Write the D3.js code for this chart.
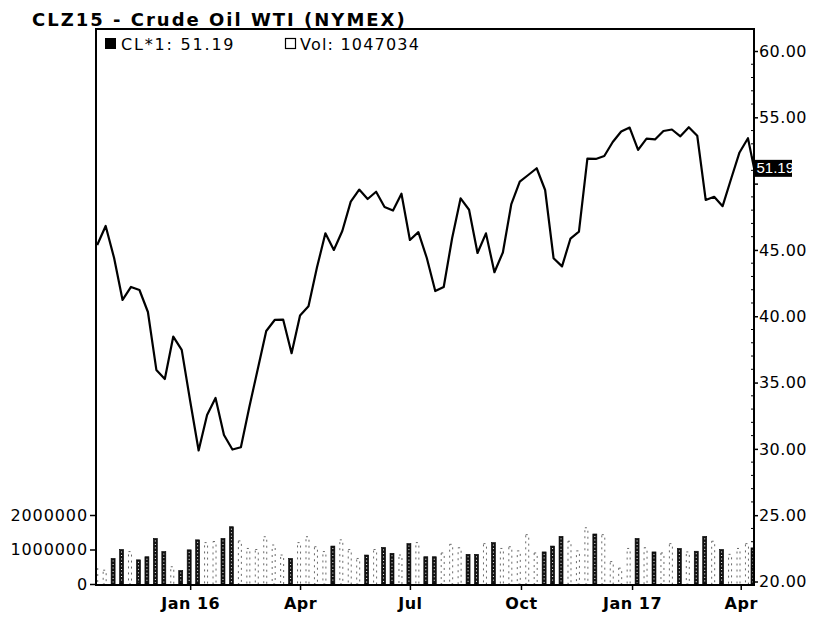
<!DOCTYPE html>
<html><head><meta charset="utf-8">
<script src="https://cdn.jsdelivr.net/npm/d3@7"></script>
<style>
body{margin:0;background:#fff}
svg{display:block}
text{font-family:"DejaVu Sans","Liberation Sans",Arial,sans-serif;fill:#000}
</style>
</head><body>
<svg id="chart" width="822" height="617"></svg>
<script>
// ---------------- DATA ----------------
const title = "CLZ15 - Crude Oil WTI (NYMEX)";
const priceLabel = "CL*1";
const volLabel = "Vol";
const lastClose = 51.19;
const lastVolume = 1047034;

const dates = [
 "2015-10-16","2015-10-23","2015-10-30","2015-11-06","2015-11-13","2015-11-20","2015-11-27",
 "2015-12-04","2015-12-11","2015-12-18","2015-12-25",
 "2016-01-01","2016-01-08","2016-01-15","2016-01-22","2016-01-29",
 "2016-02-05","2016-02-12","2016-02-19","2016-02-26",
 "2016-03-04","2016-03-11","2016-03-18","2016-03-25",
 "2016-04-01","2016-04-08","2016-04-15","2016-04-22","2016-04-29",
 "2016-05-06","2016-05-13","2016-05-20","2016-05-27",
 "2016-06-03","2016-06-10","2016-06-17","2016-06-24",
 "2016-07-01","2016-07-08","2016-07-15","2016-07-22","2016-07-29",
 "2016-08-05","2016-08-12","2016-08-19","2016-08-26",
 "2016-09-02","2016-09-09","2016-09-16","2016-09-23","2016-09-30",
 "2016-10-07","2016-10-14","2016-10-21","2016-10-28",
 "2016-11-04","2016-11-11","2016-11-18","2016-11-25",
 "2016-12-02","2016-12-09","2016-12-16","2016-12-23","2016-12-30",
 "2017-01-06","2017-01-13","2017-01-20","2017-01-27",
 "2017-02-03","2017-02-10","2017-02-17","2017-02-24",
 "2017-03-03","2017-03-10","2017-03-17","2017-03-24","2017-03-31",
 "2017-04-07","2017-04-12"
];

const closes = [
 45.37,46.81,44.39,41.23,42.21,41.98,40.32,35.95,35.27,38.47,37.46,
 33.61,29.88,32.55,33.84,31.05,
 29.95,30.12,33.16,36.02,
 38.89,39.72,39.75,37.21,
 40.06,40.75,43.67,46.25,45.00,
 46.43,48.64,49.55,48.84,
 49.39,48.24,47.97,49.24,
 45.75,46.34,44.39,41.90,42.21,
 45.90,48.89,48.03,44.77,
 46.25,43.32,44.81,48.46,50.15,
 50.65,51.16,49.52,44.37,
 43.76,45.86,46.38,51.89,
 51.86,52.08,53.14,53.93,54.23,
 52.54,53.39,53.33,53.97,
 54.08,53.57,54.25,53.61,
 48.77,49.01,48.30,50.35,52.35,
 53.42,51.19
];

const volumes = [
 550000,400000,740000,1000000,940000,700000,790000,1320000,940000,500000,390000,
 990000,1280000,1200000,1230000,1320000,
 1660000,1250000,1030000,1000000,
 1370000,1130000,840000,740000,
 1200000,1370000,1080000,940000,1100000,
 1280000,1000000,740000,840000,
 1000000,1060000,890000,840000,
 1170000,1200000,790000,790000,900000,
 1150000,1050000,860000,860000,
 1170000,1200000,1030000,1080000,960000,
 1430000,900000,930000,1100000,
 1380000,1240000,960000,1630000,
 1450000,1430000,650000,460000,1030000,
 1320000,1050000,930000,900000,
 1170000,1030000,930000,950000,
 1380000,1240000,1000000,860000,1030000,
 1170000,1047034
];

const priceTicks = [20,25,30,35,40,45,50,55,60];
const volumeTicks = [0,1000000,2000000];
const timeTicks = ["2016-01-01","2016-04-01","2016-07-01","2016-10-01","2017-01-01","2017-04-01"];
const timeTickLabels = ["Jan 16","Apr","Jul","Oct","Jan 17","Apr"];
const timeDomain = ["2015-10-15","2017-04-12"];

// ---------------- CHART ----------------
const parse = d3.timeParse("%Y-%m-%d");
const data = dates.map((d,i)=>({date:parse(d), close:closes[i], vol:volumes[i],
  down: i>0 && closes[i] < closes[i-1]}));

const L=96, R=754, T=29, B=585;
const svg = d3.select("#chart");

const x = d3.scaleTime().domain(timeDomain.map(parse)).range([L,R]);
const y = d3.scaleLinear().domain([20,60]).range([581.5,51]);
const yv = d3.scaleLinear().domain([0,2000000]).range([584,515]);

svg.append("defs").append("clipPath").attr("id","clip")
  .append("rect").attr("x",L+1).attr("y",T).attr("width",R-L-2).attr("height",B-T);

// volume bars
const vg = svg.append("g").attr("clip-path","url(#clip)");
const upBars = data.filter(d=>!d.down);
const downBars = data.filter(d=>d.down);
vg.selectAll("rect.up").data(upBars).join("rect").attr("class","up")
  .attr("x",d=>x(d.date)-2.5).attr("width",3)
  .attr("y",d=>yv(d.vol)).attr("height",d=>yv(0)-yv(d.vol))
  .attr("fill","none").attr("stroke","#444").attr("stroke-width",0.8)
  .attr("stroke-dasharray","2,4");
vg.selectAll("rect.dn").data(downBars).join("rect").attr("class","dn")
  .attr("x",d=>x(d.date)-3).attr("width",4)
  .attr("y",d=>yv(d.vol)).attr("height",d=>yv(0)-yv(d.vol))
  .attr("fill","#111").attr("stroke","#000").attr("stroke-width",0.6);
vg.selectAll("line.hatch").data(downBars).join("line").attr("class","hatch")
  .attr("x1",d=>x(d.date)-1).attr("x2",d=>x(d.date)-1)
  .attr("y1",d=>yv(d.vol)+2).attr("y2",yv(0)-1)
  .attr("stroke","#fff").attr("stroke-width",1).attr("stroke-dasharray","1,2.5");

// price line
svg.append("path").datum(data)
  .attr("clip-path","url(#clip)")
  .attr("fill","none").attr("stroke","#000").attr("stroke-width",2.2)
  .attr("stroke-linejoin","round")
  .attr("d", d3.line().x(d=>x(d.date)).y(d=>y(d.close)));

// frame
svg.append("rect").attr("x",L).attr("y",T).attr("width",R-L).attr("height",B-T)
  .attr("fill","none").attr("stroke","#000").attr("stroke-width",2);

// minor ticks on right axis
svg.append("g").selectAll("line").data(d3.range(20,61).filter(v=>v%5!==0)).join("line")
  .attr("x1",R-3).attr("x2",R).attr("y1",d=>y(d)).attr("y2",d=>y(d))
  .attr("stroke","#000").attr("stroke-width",1);

// right price axis
const ly = y(lastClose);
const ra = svg.append("g").attr("transform",`translate(${R},0)`)
  .call(d3.axisRight(y).tickValues(priceTicks).tickFormat(d3.format(".2f")).tickSize(4).tickPadding(1));
ra.select(".domain").remove();
ra.selectAll("line").attr("stroke-width",1.5);
ra.selectAll("text").style("font-size","16px").style("letter-spacing","0.4px").attr("fill","#000");
ra.selectAll(".tick").filter(d=>Math.abs(y(d)-ly)<16).select("text").remove();

// last value marker
svg.append("rect").attr("x",R+1).attr("y",ly-8).attr("width",37).attr("height",17).attr("fill","#000");
svg.append("text").attr("x",R+2.5).attr("y",ly).attr("dy","0.36em")
  .style("font-family","'Liberation Sans',Arial,sans-serif")
  .style("font-size","15px").style("fill","#fff")
  .text(d3.format(".2f")(lastClose));

// left volume axis
const la = svg.append("g").attr("transform",`translate(${L},0)`)
  .call(d3.axisLeft(yv).tickValues(volumeTicks).tickFormat(d3.format("d")).tickSize(6).tickPadding(2));
la.select(".domain").remove();
la.selectAll("line").attr("stroke-width",1.5);
la.selectAll("text").style("font-size","16px").style("letter-spacing","0.9px").attr("fill","#000");

// bottom time axis
const ba = svg.append("g").attr("transform",`translate(0,${B})`)
  .call(d3.axisBottom(x).tickValues(timeTicks.map(parse)).tickFormat((d,i)=>timeTickLabels[i]).tickSize(5));
ba.select(".domain").remove();
ba.selectAll("line").attr("stroke-width",1.5);
ba.selectAll("text").attr("y",13).style("font-size","16px").style("font-weight","bold")
  .style("letter-spacing","0.5px").attr("fill","#000");

// title
svg.append("text").attr("x",32).attr("y",26).style("font-size","18px").style("font-weight","bold")
  .style("letter-spacing","2px").text(title);

// legend
svg.append("rect").attr("x",105).attr("y",38).attr("width",11).attr("height",11).attr("fill","#000");
svg.append("text").attr("x",121).attr("y",50).style("font-size","16px").style("letter-spacing","1.8px")
  .text(`${priceLabel}: ${d3.format(".2f")(lastClose)}`);
svg.append("rect").attr("x",285.5).attr("y",38.5).attr("width",10).attr("height",10)
  .attr("fill","#fff").attr("stroke","#000").attr("stroke-width",1.2);
svg.append("text").attr("x",300).attr("y",50).style("font-size","16px").style("letter-spacing","1.2px")
  .text(`${volLabel}: ${lastVolume}`);
</script>
</body></html>
